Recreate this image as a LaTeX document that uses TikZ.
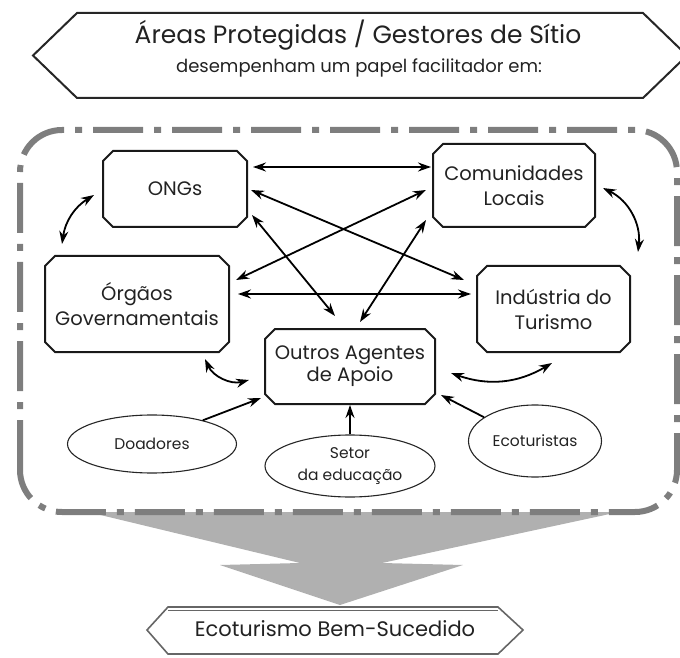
\documentclass[tikz,border=0pt]{standalone}
\usepackage{fontspec}
\setmainfont{Poppins}
\usetikzlibrary{arrows.meta,shapes.misc,shapes.geometric}
\definecolor{framegray}{HTML}{7E7E7E}
\definecolor{flowgray}{HTML}{B0B0B0}
\definecolor{inkgray}{HTML}{222222}
\def\boxfont{\fontsize{19.5}{25}\selectfont}
\def\ovalfont{\fontsize{15.5}{22}\selectfont}
\tikzset{
  agent/.style={chamfered rectangle, chamfered rectangle xsep=5pt, chamfered rectangle ysep=5pt,
    draw=black!90, line width=2pt, align=center, text=inkgray, font=\boxfont, inner sep=0pt},
  support/.style={ellipse, draw=black!85, line width=1.1pt, align=center, text=inkgray, font=\ovalfont, inner sep=0pt},
  link/.style={line width=1.8pt, {Stealth[length=13pt,width=9pt]}-{Stealth[length=13pt,width=9pt]}},
  feed/.style={line width=1.8pt, -{Stealth[length=13pt,width=9pt]}},
}

\begin{document}
\begin{tikzpicture}[x=1pt,y=1pt]
		%%%%% START %%%%%
		\useasboundingbox (0,0) rectangle (680,657);
		
		% top banner
		\draw[line width=2pt, color=black!85] (33,601.5) -- (77,644) -- (643,644) -- (687,601.5) -- (643,559) -- (77,559) -- cycle;
		\node[text=inkgray, font=\fontsize{25}{28}\selectfont] (title) at (358,622) {Áreas Protegidas / Gestores de Sítio};
		\node[text=inkgray, font=\fontsize{18}{20}\selectfont] (subtitle) at (359,589) {desempenham um papel facilitador em:};
		
		% big gray arrow
		\fill[flowgray] (88,145) -- (300,94) -- (220,92) -- (340,52) -- (463,92) -- (382,94) -- (619,145) -- cycle;
		
		% dash-dot frame
		\draw[line width=6pt, color=framegray, rounded corners=42pt, dash pattern=on 50pt off 11pt on 7pt off 11pt] (20,145) rectangle (677,527);
		
		% agents
		\node[agent, minimum width=144pt, minimum height=76pt] (ongs) at (175,468) {ONGs};
		\node[agent, minimum width=184pt, minimum height=96pt] (orgaos) at (137,353) {Órgãos\\Governamentais};
		\node[agent, minimum width=162pt, minimum height=83pt] (comunidades) at (514,471.5) {Comunidades\\Locais};
		\node[agent, minimum width=153pt, minimum height=86pt] (industria) at (553.5,348) {Indústria do\\Turismo};
		\node[agent, minimum width=170pt, minimum height=75pt, font=\fontsize{19.5}{22}\selectfont] (outros) at (350,290.5) {Outros Agentes\\de Apoio};
		
		\node[support, minimum width=169pt, minimum height=58pt] (doadores) at (152,213) {Doadores};
		\node[support, minimum width=170pt, minimum height=62pt] (setor) at (350,191) {Setor\\da educação};
		\node[support, minimum width=133pt, minimum height=72pt] (ecoturistas) at (535,216) {Ecoturistas};
		
		% straight links
		\draw[link] ([shift={(5pt,22pt)}]ongs.east) -- ([shift={(-1pt,18.5pt)}]comunidades.west);
		\draw[link] ([shift={(3pt,-1pt)}]ongs.east) -- ([shift={(-12pt,29pt)}]industria.west);
		\draw[link] ([shift={(4pt,-26pt)}]ongs.east) -- ([shift={(-15pt,12pt)}]outros.north);
		\draw[link] ([shift={(-6pt,-4.5pt)}]comunidades.west) -- ([shift={(6pt,24pt)}]orgaos.east);
		\draw[link] ([shift={(-6pt,-34.5pt)}]comunidades.west) -- ([shift={(10pt,6pt)}]outros.north);
		\draw[link] ([shift={(8pt,10pt)}]orgaos.east) -- ([shift={(-5pt,15pt)}]industria.west);
		
		% curved links
		\draw[link] ([shift={(-8pt,-6pt)}]ongs.west) to[bend right=25] ([shift={(-75pt,11pt)}]orgaos.north);
		\draw[link] ([shift={(7pt,-2.5pt)}]comunidades.east) to[bend left=35] ([shift={(84.5pt,13pt)}]industria.north);
		\draw[link] ([shift={(68pt,-6pt)}]orgaos.south) to[bend right=40] ([shift={(-15pt,-13.5pt)}]outros.west);
		\draw[link] ([shift={(15pt,-6.5pt)}]outros.east) to[bend right=25] ([shift={(-1.5pt,-10pt)}]industria.south);
		
		% supporters
		\draw[feed] (doadores.25) -- ([shift={(-3pt,-31.5pt)}]outros.west);
		\draw[feed] (setor.north) -- (outros.south);
		\draw[feed] (ecoturistas.155) -- ([shift={(5pt,-28.5pt)}]outros.east);
		
		% bottom banner
		\draw[line width=1.6pt, color=black!60] (147,27) -- (168,50) -- (498,50) -- (523,27) -- (498,3) -- (168,3) -- cycle;
		\draw[line width=1.2pt, color=black!60] (168,46.5) -- (498,46.5);
		\node[text=inkgray, font=\fontsize{21}{24}\selectfont] (goal) at (335,28) {Ecoturismo Bem-Sucedido};
		
		%%%%% END %%%%%
\end{tikzpicture}
\end{document}
